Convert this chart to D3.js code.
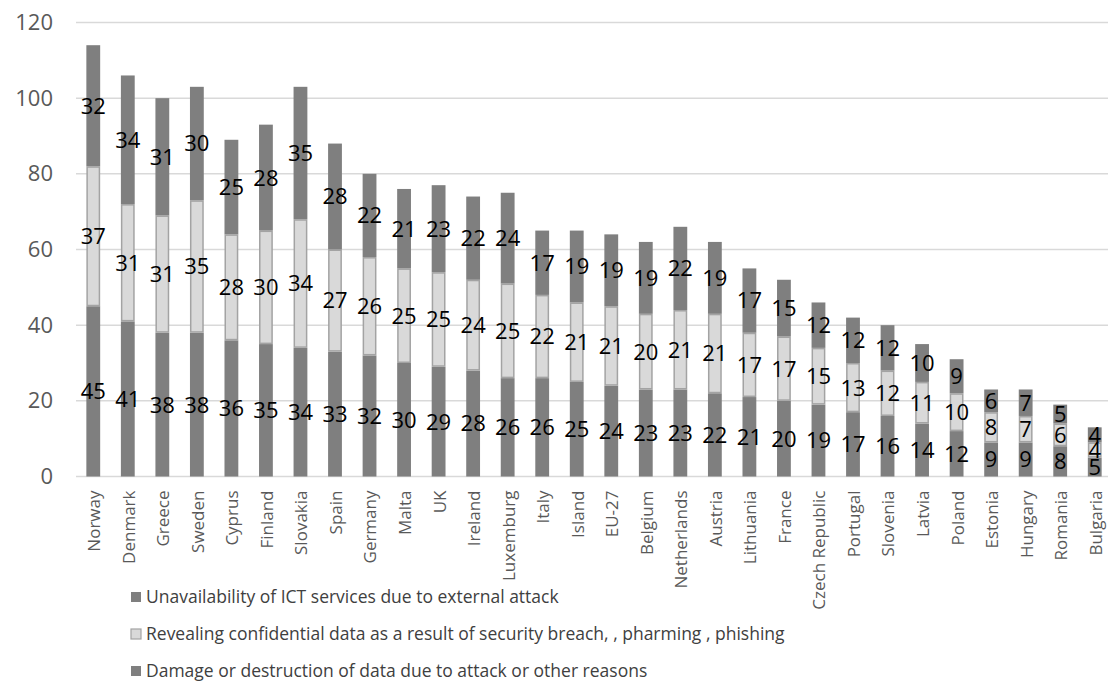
<!DOCTYPE html>
<html><head><meta charset="utf-8">
<script src="https://cdn.jsdelivr.net/npm/d3@7"></script>
<style>body{margin:0;background:#fff}svg{display:block}</style>
</head><body>
<svg id="c" width="1108" height="682"></svg>
<script>
const categories = ["Norway","Denmark","Greece","Sweden","Cyprus","Finland","Slovakia","Spain","Germany","Malta","UK","Ireland","Luxemburg","Italy","Island","EU-27","Belgium","Netherlands","Austria","Lithuania","France","Czech Republic","Portugal","Slovenia","Latvia","Poland","Estonia","Hungary","Romania","Bulgaria"];
const damage = [45,41,38,38,36,35,34,33,32,30,29,28,26,26,25,24,23,23,22,21,20,19,17,16,14,12,9,9,8,5];
const revealing = [37,31,31,35,28,30,34,27,26,25,25,24,25,22,21,21,20,21,21,17,17,15,13,12,11,10,8,7,6,4];
const unavailability = [32,34,31,30,25,28,35,28,22,21,23,22,24,17,19,19,19,22,19,17,15,12,12,12,10,9,6,7,5,4];
const yTicks = [0,20,40,60,80,100,120];
const seriesNames = ["Unavailability of ICT services due to external attack","Revealing confidential data as a result of security breach, , pharming , phishing","Damage or destruction of data due to attack or other reasons"];

const svg = d3.select("#c");
const y = d3.scaleLinear().domain([0,120]).range([476.5,22.5]);
const x = d3.scaleBand().domain(categories).range([76,1112]).paddingInner(0.6).paddingOuter(0.3);

const dark = "#7f7f7f", light = "#d9d9d9", lightStroke = "#a3a3a3";

// grid
svg.append("g").selectAll("line").data(yTicks).join("line")
  .attr("x1",76).attr("x2",1108).attr("y1",d=>y(d)).attr("y2",d=>y(d))
  .attr("stroke","#d9d9d9").attr("stroke-width",1.5);

// y axis labels
const yAxis = d3.axisLeft(y).tickValues(yTicks).tickSize(0).tickPadding(0);
const ya = svg.append("g").attr("transform","translate(53,0)").call(yAxis);
ya.select(".domain").remove();
ya.selectAll("text").attr("font-family","Open Sans").attr("font-size",22).attr("fill","#595959");

// stacked data
const rows = categories.map((c,i)=>({cat:c, damage:damage[i], revealing:revealing[i], unavailability:unavailability[i]}));
const stack = d3.stack().keys(["damage","revealing","unavailability"])(rows);
const fills = {damage:dark, revealing:light, unavailability:dark};

stack.forEach(s=>{
  const g = svg.append("g");
  g.selectAll("rect").data(s).join("rect")
    .attr("x",d=>x(d.data.cat) + (s.key==="revealing"?0.75:0))
    .attr("width",x.bandwidth() - (s.key==="revealing"?1.5:0))
    .attr("y",d=>y(d[1]) + (s.key==="revealing"?0.75:0))
    .attr("height",d=>y(d[0])-y(d[1]) - (s.key==="revealing"?1.5:0))
    .attr("fill",fills[s.key])
    .attr("stroke",s.key==="revealing"?lightStroke:"none")
    .attr("stroke-width",1.5);
});
stack.forEach(s=>{
  svg.append("g").selectAll("text").data(s).join("text")
    .attr("x",d=>x(d.data.cat)+x.bandwidth()/2)
    .attr("y",d=>y((d[0]+d[1])/2))
    .attr("dy","0.36em")
    .attr("text-anchor","middle")
    .attr("font-family","Open Sans").attr("font-size",22).attr("fill","#000")
    .text(d=>d.data[s.key]);
});

// x labels
const xa = svg.append("g").attr("transform","translate(0,476.5)").call(d3.axisBottom(x).tickSize(0).tickPadding(0));
xa.select(".domain").remove();
xa.selectAll("text")
  .attr("font-family","Open Sans").attr("font-size",17).attr("fill","#595959")
  .attr("transform","rotate(-90)")
  .attr("text-anchor","end")
  .attr("x",-14).attr("y",1).attr("dy","0.35em");

// legend
const legFills = [dark, light, dark];
const lg = svg.append("g");
seriesNames.forEach((n,i)=>{
  const cy = 597 + i*37;
  lg.append("rect").attr("x",131).attr("y",cy-5).attr("width",10).attr("height",10)
    .attr("fill",legFills[i]).attr("stroke",i===1?lightStroke:"none").attr("stroke-width",1.2);
  lg.append("text").attr("x",146).attr("y",cy).attr("dy","0.35em")
    .attr("font-family","Open Sans").attr("font-size",17.5).attr("fill","#404040").text(n);
});
</script>
</body></html>
